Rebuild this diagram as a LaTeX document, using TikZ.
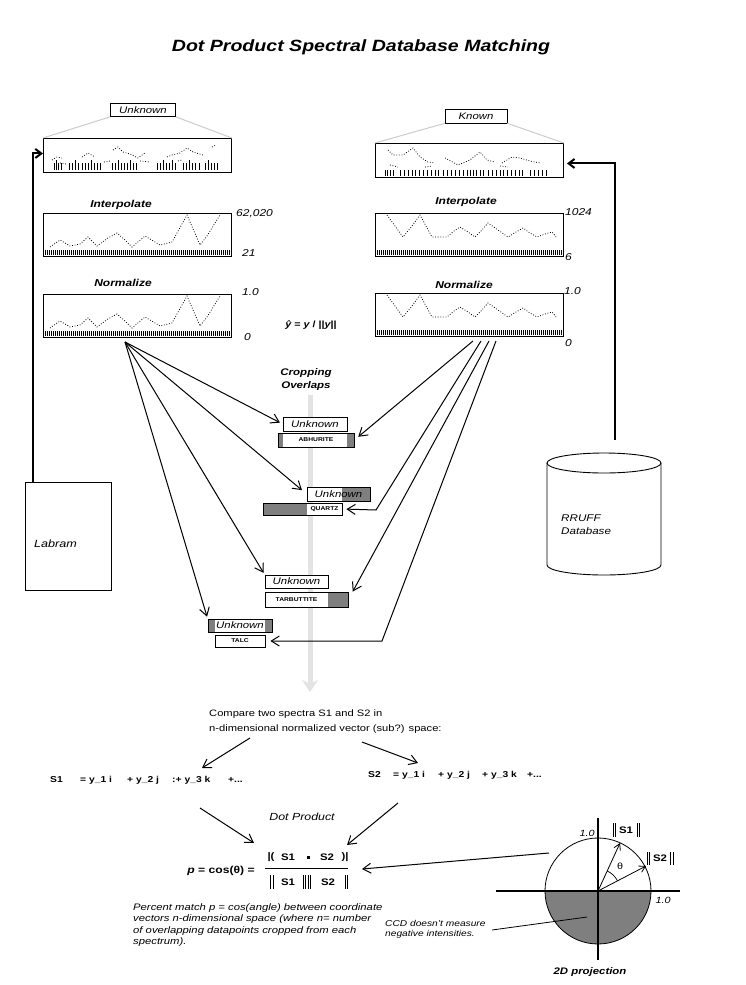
\documentclass[tikz,border=0pt]{standalone}
\usepackage{fontspec}
\setmainfont{Liberation Sans}[FakeStretch=1.2]
\usetikzlibrary{arrows.meta}
\definecolor{darkfill}{HTML}{7F7F7F}
\definecolor{guide}{HTML}{CCCCCC}
\definecolor{track}{HTML}{E3E3E3}
\newcommand{\fsz}[1]{\fontsize{#1}{#1}\selectfont}
\begin{document}
\begin{tikzpicture}[x=1pt,y=-1pt,
  panel/.style={draw,line width=0.9pt,inner sep=0pt,anchor=north west},
  tag/.style={draw,line width=0.7pt,inner sep=0pt,fill=white,font=\fsz{9.5}\itshape},
  head/.style={inner sep=0pt,font=\fsz{10}\bfseries\itshape},
  sclbl/.style={inner sep=0pt,anchor=west,font=\fsz{10}\itshape},
  spec/.style={line width=0.8pt,dash pattern=on 0.8pt off 1.8pt},
  bar/.style={line width=0.6pt},
  tick/.style={line width=0.6pt},
  arr/.style={line width=1pt,-{Straight Barb[length=8pt,width=10pt]}},
  tarr/.style={line width=2pt,-{Straight Barb[length=6pt,width=9pt]}},
  crop/.style={draw,line width=0.8pt,inner sep=0pt},
  utext/.style={font=\fsz{9.5}\itshape},
  mtext/.style={font=\fsz{5.6}\bfseries},
  eq/.style={inner sep=0pt,anchor=west,font=\fsz{8.6}\bfseries},
  note/.style={inner sep=0pt,anchor=base west,font=\fsz{9.4}\itshape},
  body/.style={inner sep=0pt,anchor=base west,font=\fsz{9.3}},
  frac/.style={inner sep=0pt,font=\fsz{9.5}\bfseries},
]
\fill[white] (0,0) rectangle (745,985);
\useasboundingbox (0,0) rectangle (745,985);

% title
\node[inner sep=0pt,font=\fsz{16.3}\bfseries\itshape] (title) at (361,47) {Dot Product Spectral Database Matching};

% central track
\coordinate (trkA) at (310,395);
\coordinate (trkB) at (310,692);
\draw[track,line width=5pt,-{Stealth[length=12pt,width=16pt]}] (trkA) -- (trkB);

% ---------------- unknown side ----------------
\node[panel,minimum width=188pt,minimum height=34pt] (uraw) at (43,138) {};
\node[panel,minimum width=188pt,minimum height=43pt] (uint) at (43,213) {};
\node[panel,minimum width=188pt,minimum height=43pt] (unorm) at (43,294) {};
\node[tag,minimum width=65pt,minimum height=13pt] (ulab) at (143,110) {Unknown};
\draw[guide,line width=1pt] (ulab.south west) -- (uraw.north west);
\draw[guide,line width=1pt] (ulab.south east) -- (uraw.north east);
\node[head] (uinth) at (121,205) {Interpolate};
\node[head] (unormh) at (123,283) {Normalize};
\node[sclbl] (u1) at (236,214) {62,020};
\node[sclbl] (u2) at (242,253) {21};
\node[sclbl] (u3) at (242,292) {1.0};
\node[sclbl] (u4) at (244,337) {0};

\draw[spec] (52,160) -- (57,157) -- (62,158) (82,157) -- (88,153) -- (95,157) (113,150) -- (118,147) -- (123,152) -- (130,154) -- (138,158) -- (145,153) (167,157) -- (172,155) -- (180,153) -- (187,148) -- (193,152) -- (203,155) (212,147) -- (216,145) (60,163) -- (66,164) (104,162) -- (110,161) (140,161) -- (150,162) (178,161) -- (182,160);
\foreach \x in {54,56,58,61,69,72,75,78,82,85,88,91,94,97,100,112,115,118,121,124,127,130,133,136,157,160,163,166,169,172,175,183,186,189,192,195,199,205,208,211,214,217}
  {\draw[bar] (\x,170) -- (\x,163);}
\foreach \x in {56,75,91,118,130,163,172,189,208}
  {\draw[bar] (\x,163) -- (\x,160);}
\foreach \sh in {0,81}{
  \draw[spec,shift={(0,\sh)}] (50,247) -- (60,240) -- (70,246) -- (80,244) -- (88,237) -- (97,246) -- (108,238) -- (117,233) -- (125,240) -- (132,247) -- (145,236) -- (160,245) -- (172,242) -- (187,215) -- (200,245) -- (207,236) -- (220,215);
}
\foreach \x in {45,47,...,229}{\draw[tick] (\x,250) -- (\x,255); \draw[tick] (\x,331) -- (\x,336);}

\node[inner sep=0pt,font=\fsz{9}\bfseries] (yhat) at (311,325) {{\itshape ŷ} = {\itshape y} / ||{\itshape y}||};

% ---------------- known side ----------------
\node[panel,minimum width=188pt,minimum height=34pt] (kraw) at (375,143) {};
\node[panel,minimum width=188pt,minimum height=43pt] (kint) at (375,213) {};
\node[panel,minimum width=188pt,minimum height=43pt] (knorm) at (375,293) {};
\node[tag,minimum width=62pt,minimum height=14pt] (klab) at (476,116) {Known};
\draw[guide,line width=1pt] (klab.south west) -- (kraw.north west);
\draw[guide,line width=1pt] (klab.south east) -- (kraw.north east);
\node[head] (kinth) at (466,202) {Interpolate};
\node[head] (knormh) at (464,285) {Normalize};
\node[sclbl] (k1l) at (565,212) {1024};
\node[sclbl] (k2l) at (565,257) {6};
\node[sclbl] (k3l) at (564,291) {1.0};
\node[sclbl] (k4l) at (565,343) {0};

\draw[spec] (388,150) -- (393,155) -- (403,155) -- (413,148) -- (420,157) -- (428,162) -- (435,163) (445,158) -- (458,165) -- (470,160) -- (480,152) -- (487,160) -- (495,162) (502,163) -- (512,157) -- (520,158) -- (530,161) -- (540,163) (390,165) -- (398,167) (425,167) -- (432,166) (500,166) -- (508,167);
\foreach \x in {385,387,390,393,400,404,408,412,415,419,423,427,431,435,438,443,447,451,455,459,463,467,470,473,476,480,483,488,492,496,500,503,507,511,515,519,522,530,534,538,542,546}
  {\draw[bar] (\x,176) -- (\x,170);}
\foreach \sh in {0,80}{
  \draw[spec,shift={(0,\sh)}] (387,215) -- (395,226) -- (403,237) -- (412,226) -- (420,215) -- (426,226) -- (432,237) -- (447,237) -- (454,231) -- (460,227) -- (468,232) -- (475,237) -- (482,230) -- (488,223) -- (498,230) -- (508,237) -- (516,232) -- (523,228) -- (530,233) -- (537,237) -- (545,234) -- (552,232) -- (556,237);
}
\foreach \x in {377,379,...,561}{\draw[tick] (\x,250) -- (\x,255); \draw[tick] (\x,330) -- (\x,335);}

% ---------------- Labram and database ----------------
\node[draw,line width=0.9pt,minimum width=86pt,minimum height=108pt,inner sep=0pt] (labram) at (68,536) {};
\node[inner sep=0pt,font=\fsz{10.5}\itshape] (labramt) at (55.5,544) {Labram};
\coordinate (lab1) at (33,482);
\draw[tarr] (lab1) |- ([yshift=2pt]uraw.west);

\draw[line width=0.9pt,fill=white] (547,463) -- (547,565) arc[start angle=180,end angle=0,x radius=57,y radius=10] -- (661,463);
\draw[line width=0.9pt] (604,463) ellipse[x radius=57,y radius=10];
\node[inner sep=0pt,anchor=base west,font=\fsz{9.7}\itshape] (rruff1) at (561,521) {RRUFF};
\node[inner sep=0pt,anchor=base west,font=\fsz{9.7}\itshape] (rruff2) at (561,534) {Database};
\coordinate (db1) at (615,440);
\draw[tarr,shorten >=3pt] (db1) |- ([yshift=-3pt]kraw.east);

% ---------------- cropping ----------------
\node[inner sep=0pt,font=\fsz{9.6}\bfseries\itshape] (crop1) at (306,373) {Cropping};
\node[inner sep=0pt,font=\fsz{9.6}\bfseries\itshape] (crop2) at (306,386) {Overlaps};

% abhurite
\node[crop,fill=white,minimum width=64pt,minimum height=14pt,utext] (ua) at (315,424) {Unknown};
\fill[white] (278,433) rectangle (354,447);
\fill[darkfill] (278,433) rectangle (283,447);
\fill[darkfill] (347,433) rectangle (354,447);
\node[crop,minimum width=76pt,minimum height=14pt,mtext] (ba) at (316,440) {ABHURITE};
% quartz
\fill[white] (307,487) rectangle (370,501);
\fill[darkfill] (342,487) rectangle (370,501);
\node[crop,minimum width=63pt,minimum height=14pt,utext] (uq) at (338.5,494) {Unknown};
\fill[white] (263,503) rectangle (342,515);
\fill[darkfill] (263,503) rectangle (307,515);
\node[crop,minimum width=79pt,minimum height=12pt] (bq) at (302.5,509) {};
\node[inner sep=0pt,mtext] (bqt) at (324.5,509) {QUARTZ};
% tarbuttite
\node[crop,fill=white,minimum width=63pt,minimum height=13pt,utext] (ut) at (296.5,581.5) {Unknown};
\fill[white] (265,592) rectangle (348,607);
\fill[darkfill] (328,592) rectangle (348,607);
\node[crop,minimum width=83pt,minimum height=15pt] (bt) at (306.5,599.5) {};
\node[inner sep=0pt,mtext] (btt) at (296.5,599.5) {TARBUTTITE};
% talc
\fill[white] (208,619) rectangle (272,632);
\fill[darkfill] (208,619) rectangle (215,632);
\fill[darkfill] (265,619) rectangle (272,632);
\node[crop,minimum width=64pt,minimum height=13pt,utext] (ul) at (240,625.5) {Unknown};
\node[crop,fill=white,minimum width=50pt,minimum height=12pt,mtext] (bl) at (240,641) {TALC};

% fan from unknown
\coordinate (ufan) at (125,342);
\draw[arr,shorten >=3pt] (ufan) -- (ua.west);
\draw[arr,shorten >=6pt] (ufan) -- (uq.west);
\draw[arr,shorten >=2pt] (ufan) -- (ut.north west);
\draw[arr,shorten >=2pt] (ufan) -- (ul.north west);
% fan from known
\coordinate (k1) at (473,341);
\coordinate (k2) at (481,341);
\coordinate (k3) at (489,341);
\coordinate (k4) at (496,341);
\coordinate (kqc) at (376,510);
\coordinate (klc) at (382,641);
\draw[arr,shorten >=5pt] (k1) -- (ba.east);
\draw[arr,shorten >=4pt] (k2) -- (kqc) -- (bq.east);
\draw[arr,shorten >=9pt] (k3) -- (bt.east);
\draw[arr,shorten >=5pt] (k4) -- (klc) -- (bl.east);

% ---------------- comparison ----------------
\node[body] (cmp1) at (209,716) {Compare two spectra S1 and S2 in};
\node[body] (cmp2) at (209,731) {n-dimensional normalized vector (sub?) space:};

\node[eq] (s1a) at (50,780) {S1};
\node[eq] (s1b) at (80,780) {= y\_1 i};
\node[eq] (s1c) at (127,780) {+ y\_2 j};
\node[eq] (s1d) at (172,780) {:+ y\_3 k};
\node[eq] (s1e) at (228,780) {+...};
\node[eq] (s2a) at (368,775) {S2};
\node[eq] (s2b) at (393,775) {= y\_1 i};
\node[eq] (s2c) at (438,775) {+ y\_2 j};
\node[eq] (s2d) at (482,775) {+ y\_3 k};
\node[eq] (s2e) at (527,775) {+...};

\coordinate (ca) at (250,738);
\coordinate (cb) at (362,742);
\coordinate (ta) at (202,768);
\coordinate (tb) at (418,763);
\draw[arr] (ca) -- (ta);
\draw[arr] (cb) -- (tb);

\node[inner sep=0pt,font=\fsz{10.3}\itshape] (dotp) at (302,817) {Dot Product};
\coordinate (da) at (200,808);
\coordinate (db) at (398,803);
\coordinate (tda) at (254,843);
\coordinate (tdb) at (347,845);
\draw[arr] (da) -- (tda);
\draw[arr] (db) -- (tdb);

\node[inner sep=0pt,font=\fsz{10.1}\bfseries] (pcos) at (221,871) {{\itshape p} = cos(θ) =};
\node[frac] (nl) at (271,857) {|(};
\node[frac] (n1) at (288,857) {S1};
\fill (306.5,856) rectangle (309.5,859);
\node[frac] (n2) at (327,857) {S2};
\node[frac] (nr) at (345,857) {)|};
\draw[line width=0.9pt] (265,868) -- (348,868);
\node[frac] (d1) at (288,882) {S1};
\node[frac] (d2) at (328,882) {S2};
\foreach \x in {270,273,303,305.5,308,310.5,345,347.5}{\draw[line width=0.8pt] (\x,875) -- (\x,889);}

\node[note] (pm1) at (133,910) {Percent match p = cos(angle) between coordinate};
\node[note] (pm2) at (133,921.5) {vectors n-dimensional space (where n= number};
\node[note] (pm3) at (133,933) {of overlapping datapoints cropped from each};
\node[note] (pm4) at (133,944.5) {spectrum).};

\node[inner sep=0pt,anchor=base west,font=\fsz{8.5}\itshape] (ccd1) at (385,926) {CCD doesn't measure};
\node[inner sep=0pt,anchor=base west,font=\fsz{8.5}\itshape] (ccd2) at (385,936) {negative intensities.};

% ---------------- circle ----------------
\coordinate (c0) at (598,891);
\fill[darkfill] (545,891) arc[start angle=180,end angle=0,radius=53] -- cycle;
\draw[line width=0.8pt] (c0) circle[radius=53];
\draw[line width=2pt] (496,891) -- (680,891);
\draw[line width=2pt] (598,818) -- (598,960);
\coordinate (v1) at (620,843);
\coordinate (v2) at (646,866);
\draw[line width=0.8pt,-{Straight Barb[length=6pt,width=7pt]}] (c0) -- (v1);
\draw[line width=0.8pt,-{Straight Barb[length=6pt,width=7pt]}] (c0) -- (v2);
\draw[line width=0.7pt] (617.5,880.8) arc[start angle=-27.5,end angle=-65,radius=22];
\node[inner sep=0pt,font=\fsz{9}] (th) at (620,866) {θ};
\node[inner sep=0pt,font=\fsz{9}\itshape] (one1) at (587,833) {1.0};
\node[inner sep=0pt,font=\fsz{9}\itshape] (one2) at (663,900) {1.0};
\node[inner sep=0pt,font=\fsz{9.5}\bfseries] (cs1) at (626,830) {S1};
\node[inner sep=0pt,font=\fsz{9.5}\bfseries] (cs2) at (660,858.5) {S2};
\foreach \x in {613,615.5,637,639.5}{\draw[line width=0.8pt] (\x,823) -- (\x,837);}
\foreach \x in {647,649.5,670.5,673}{\draw[line width=0.8pt] (\x,852) -- (\x,865);}
\node[inner sep=0pt,font=\fsz{9.5}\bfseries\itshape] (proj) at (590,972) {2D projection};

\coordinate (cp) at (549,853);
\coordinate (fr) at (362,869);
\draw[arr] (cp) -- (fr);
\coordinate (cc1) at (492,930);
\coordinate (cc2) at (587,917);
\draw[line width=0.8pt] (cc1) -- (cc2);
\end{tikzpicture}
\end{document}
